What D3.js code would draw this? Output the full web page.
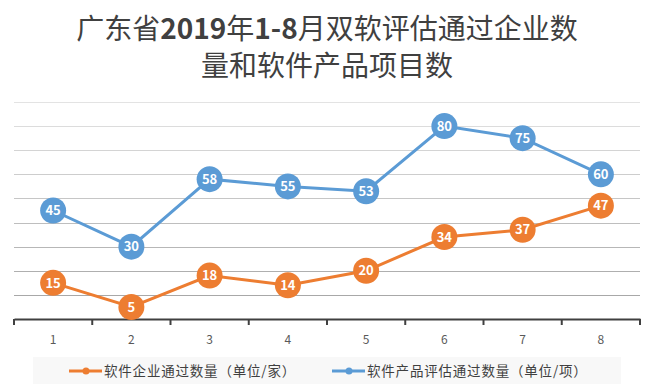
<!DOCTYPE html>
<html><head><meta charset="utf-8">
<script src="https://cdn.jsdelivr.net/npm/d3@7/dist/d3.min.js"></script>
<style>body{margin:0;background:#fff}svg{display:block}</style>
</head><body>
<script>
const months = ["1","2","3","4","5","6","7","8"];
const enterprises = [15,5,18,14,20,34,37,47];
const products = [45,30,58,55,53,80,75,60];
const gridTicks = [10,20,30,40,50,60,70,80,90];
const seriesNames = ["软件企业通过数量（单位/家）","软件产品评估通过数量（单位/项）"];
const titleParts = [[["广东省",0],["2019",1],["年",0],["1-8",1],["月双软评估通过企业数",0]],[["量和软件产品项目数",0]]];

const W=655,H=392;
const svg=d3.select("body").append("svg").attr("width",W).attr("height",H);
const font="'Noto Sans CJK SC','Noto Sans',sans-serif";

const x=d3.scaleBand().domain(months).range([14,640]);
const y=d3.scaleLinear().domain([0,90]).range([319,102]);
const gcol=d3.scaleLinear().domain([90,10]).range(["#e3e3e3","#a8a8a8"]);

// title
svg.selectAll("text.title").data(titleParts).enter().append("text")
  .attr("x",327).attr("y",(d,i)=>39+i*37).attr("text-anchor","middle")
  .attr("font-family",font).attr("font-size",28).attr("fill","#404040")
  .selectAll("tspan").data(d=>d).enter().append("tspan")
  .attr("font-weight",d=>d[1]?"bold":"normal").text(d=>d[0]);

// grid
svg.append("g").selectAll("line").data(gridTicks).enter().append("line")
  .attr("x1",14).attr("x2",640).attr("y1",d=>Math.round(y(d))+0.5).attr("y2",d=>Math.round(y(d))+0.5)
  .attr("stroke",d=>gcol(d)).attr("stroke-width",1);

// axis
const ax=svg.append("g").attr("transform","translate(0,319)")
  .call(d3.axisBottom(x).tickSizeInner(0).tickSizeOuter(0).tickPadding(16));
ax.select(".domain").attr("stroke","#404040").attr("stroke-width",2);
ax.selectAll("text").attr("font-family",font).attr("font-size",12).attr("fill","#595959");
const edges=months.map(m=>x(m)).concat([x.range()[1]]);
ax.selectAll("line.tk").data(edges).enter().append("line").attr("class","tk")
  .attr("x1",d=>d).attr("x2",d=>d).attr("y1",0).attr("y2",6)
  .attr("stroke","#404040").attr("stroke-width",2);

const cx=m=>x(m)+x.bandwidth()/2;
const line=d3.line().x((d,i)=>cx(months[i])).y(d=>y(d));
const series=[{v:enterprises,c:"#ed7d31"},{v:products,c:"#5b9bd5"}];
series.forEach(s=>{
  svg.append("path").datum(s.v).attr("d",line).attr("fill","none")
    .attr("stroke",s.c).attr("stroke-width",3);
  const g=svg.append("g").selectAll("g").data(s.v).enter().append("g")
    .attr("transform",(d,i)=>`translate(${cx(months[i])},${y(d)})`);
  g.append("circle").attr("r",13).attr("fill",s.c);
  g.append("text").attr("text-anchor","middle").attr("dy","0.36em")
    .attr("font-family",font).attr("font-size",13).attr("font-weight","bold")
    .attr("fill","#fff").text(d=>d);
});

// legend
svg.append("rect").attr("x",33).attr("y",357).attr("width",588).attr("height",27).attr("fill","#f8f8f8");
const lx=[69,332];
series.forEach((s,i)=>{
  const g=svg.append("g").attr("transform",`translate(${lx[i]},371)`);
  g.append("line").attr("x1",0).attr("x2",33).attr("stroke",s.c).attr("stroke-width",3);
  g.append("circle").attr("cx",17).attr("r",3.5).attr("fill",s.c);
  g.append("text").attr("x",35).attr("dy","0.36em").attr("font-family",font)
    .attr("font-size",13.5).attr("letter-spacing",0.8).attr("fill","#404040").text(seriesNames[i]);
});
</script>
</body></html>
